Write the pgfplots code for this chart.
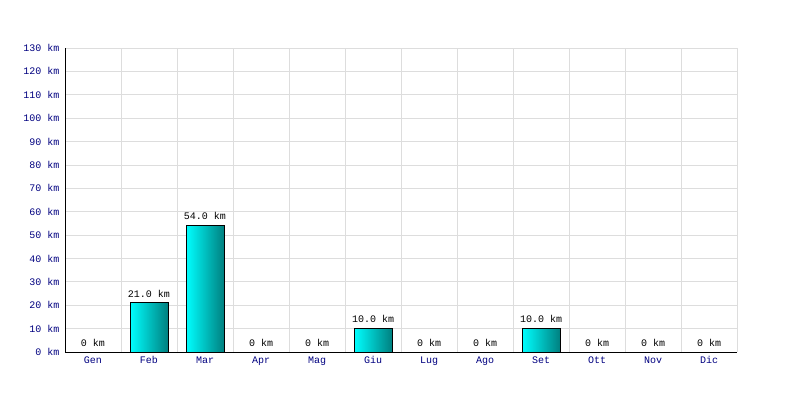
\documentclass[border=0pt]{standalone}
\usepackage{pgfplots}
\pgfplotsset{compat=1.18}
\usepackage{fontspec}
\setmainfont{Liberation Mono}
\definecolor{navyc}{HTML}{000080}
\definecolor{gridc}{HTML}{DDDDDD}
\definecolor{barL}{HTML}{00FFFF}
\definecolor{barR}{HTML}{008080}
\begin{document}
\fontsize{10bp}{12bp}\selectfont
\begin{tikzpicture}
\useasboundingbox (0,0) rectangle (800bp,400bp);
\begin{axis}[
  at={(65bp,48bp)}, anchor=south west,
  scale only axis, width=672bp, height=304bp,
  xmin=-0.5, xmax=11.5, ymin=0, ymax=130,
  axis x line*=bottom, axis y line*=left,
  axis line style={black, line width=1pt, -},
  xtick={0,...,11},
  xticklabels={Gen,Feb,Mar,Apr,Mag,Giu,Lug,Ago,Set,Ott,Nov,Dic},
  minor xtick={-0.5,0.5,...,11.5},
  ytick={0,10,...,130},
  yticklabels={0 km,10 km,20 km,30 km,40 km,50 km,60 km,70 km,80 km,90 km,100 km,110 km,120 km,130 km},
  major tick length=0pt, minor tick length=0pt,
  ymajorgrids, xminorgrids, xmajorgrids=false,
  grid style={gridc, line width=0.8pt},
  minor grid style={gridc, line width=0.8pt},
  tick label style={navyc, font=\fontsize{10bp}{12bp}\selectfont},
  yticklabel style={xshift=-2bp},
  xticklabel style={yshift=-1bp},
  ybar, bar width=38bp, bar shift=0pt,
  point meta=explicit symbolic,
  nodes near coords,
  every node near coord/.append style={black, font=\fontsize{10bp}{12bp}\selectfont, yshift=2bp},
  clip=false,
]
\addplot[draw=black, line width=0.8pt, left color=barL, right color=barR] table[meta=lab] {
x y lab
1 21 {21.0 km}
};
\addplot[draw=black, line width=0.8pt, left color=barL, right color=barR] table[meta=lab] {
x y lab
2 54 {54.0 km}
};
\addplot[draw=black, line width=0.8pt, left color=barL, right color=barR] table[meta=lab] {
x y lab
5 10 {10.0 km}
};
\addplot[draw=black, line width=0.8pt, left color=barL, right color=barR] table[meta=lab] {
x y lab
8 10 {10.0 km}
};
\addplot[draw=none, fill=none] table[meta=lab] {
x y lab
0 0 {0 km}
3 0 {0 km}
4 0 {0 km}
6 0 {0 km}
7 0 {0 km}
9 0 {0 km}
10 0 {0 km}
11 0 {0 km}
};
\end{axis}
\end{tikzpicture}
\end{document}
